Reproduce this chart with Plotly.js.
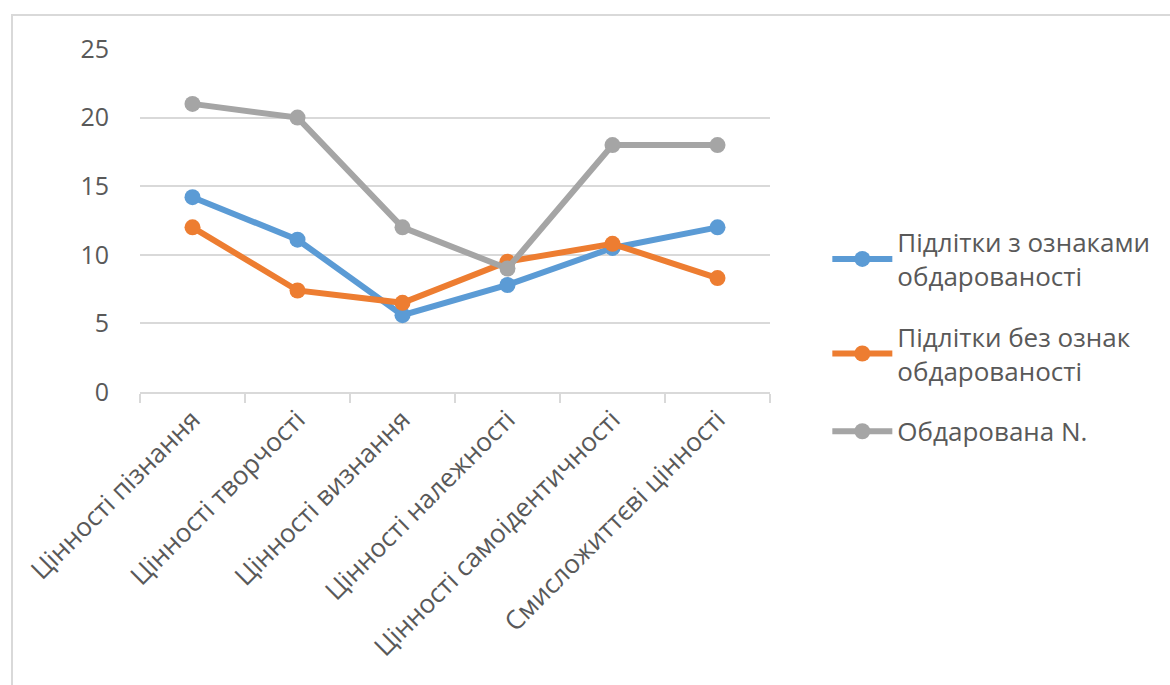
<!DOCTYPE html>
<html>
<head>
<meta charset="utf-8">
<script src="https://cdn.plot.ly/plotly-3.0.1.min.js"></script>
<style>
html,body{margin:0;padding:0;overflow:hidden;background:#fff;}
#wrap{position:relative;width:1170px;height:685px;}
#chart{position:absolute;left:0;top:0;width:1170px;height:685px;}
#frame{position:absolute;left:11px;top:14px;width:1200px;height:700px;border:2px solid #d9d9d9;pointer-events:none;box-sizing:border-box;}
</style>
</head>
<body>
<div id="wrap"><div id="chart"></div><div id="frame"></div></div>
<script>
const categories = ["Цінності пізнання","Цінності творчості","Цінності визнання","Цінності належності","Цінності самоідентичності","Смисложиттєві цінності"];
const seriesNames = ["Підлітки з ознаками<br>обдарованості","Підлітки без ознак<br>обдарованості","Обдарована N."];
const giftedValues = [14.2, 11.1, 5.6, 7.8, 10.5, 12];
const nonGiftedValues = [12, 7.4, 6.5, 9.5, 10.8, 8.3];
const giftedNValues = [21, 20, 12, 9, 18, 18];
const colors = ["#5b9bd5","#ed7d31","#a5a5a5"];
const yTicks = [0,5,10,15,20,25];

const all = [giftedValues, nonGiftedValues, giftedNValues];
const traces = all.map((vals,i)=>({
  type:'scatter', mode:'lines+markers', x:categories, y:vals, name:seriesNames[i],
  legendgroup:'g'+i,
  line:{color:colors[i], width:6}, marker:{color:colors[i], size:16}
}));

const FONT = 'Open Sans, Roboto, sans-serif';
const layout = {
  width:1170, height:685,
  margin:{l:140, r:400, t:49, b:293},
  paper_bgcolor:'#fff', plot_bgcolor:'#fff',
  font:{family:FONT, color:'#595959'},
  showlegend:true,
  legend:{x:1.091, xanchor:'left', y:0.16, yanchor:'middle', font:{size:26, color:'#595959', family:FONT}, tracegroupgap:24, itemwidth:60},
  xaxis:{type:'category', range:[-0.5,5.5], tickangle:-45, tickson:'boundaries', ticks:'outside', ticklen:9, tickwidth:2, tickcolor:'#d9d9d9', showline:true, linecolor:'#d9d9d9', linewidth:2, showgrid:false, tickfont:{size:26, color:'#595959', family:FONT}, fixedrange:true},
  yaxis:{range:[0,25], tickvals:yTicks, showgrid:true, gridcolor:'#d9d9d9', gridwidth:2, zeroline:false, showline:false, ticks:'', tickfont:{size:25, color:'#595959', family:FONT}, ticklabelstandoff:30, fixedrange:true}
};
Plotly.newPlot('chart', traces, layout, {staticPlot:true, displayModeBar:false});
</script>
</body>
</html>
